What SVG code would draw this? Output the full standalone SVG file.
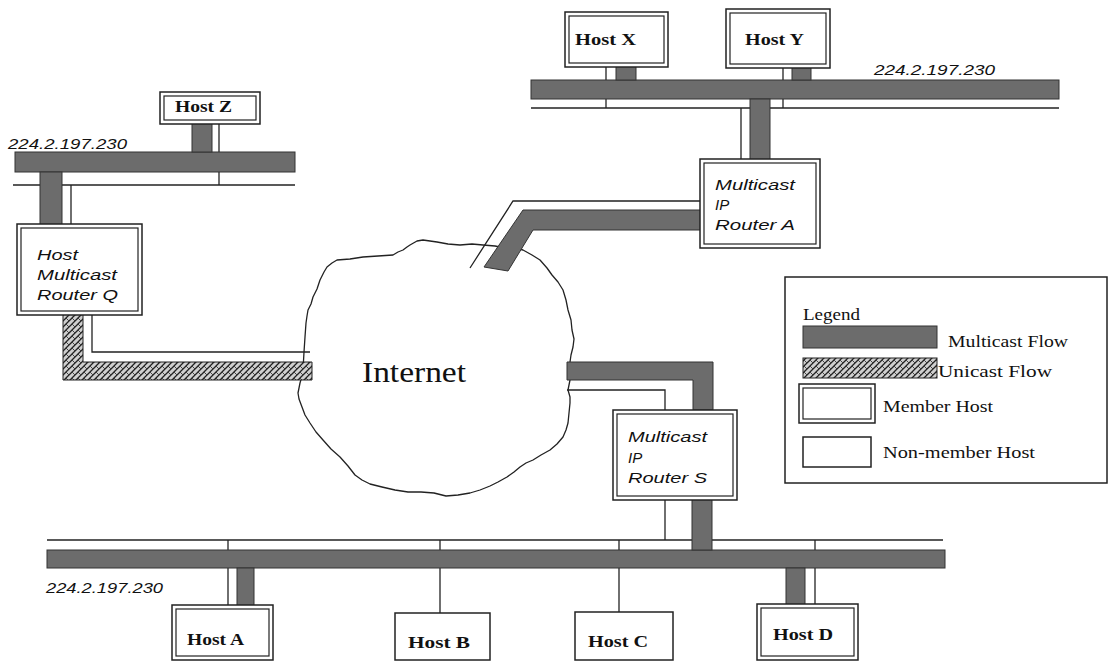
<svg xmlns="http://www.w3.org/2000/svg" width="1111" height="662" viewBox="0 0 1111 662">
<style>
.mc{fill:#6c6c6c;stroke:#333;stroke-width:1}
.uc{fill:url(#hatch);stroke:#222;stroke-width:1}
.thin{fill:none;stroke:#222;stroke-width:1.3}
.box{fill:#fff;stroke:#222;stroke-width:1.5}
.inner{fill:#fff;stroke:#222;stroke-width:1.2}
.host{font-family:"Liberation Serif",serif;font-weight:bold;font-size:16px;fill:#111}
.rt{font-family:"Liberation Sans",Arial,sans-serif;font-style:italic;font-size:15px;fill:#111}
.ip{font-family:"Liberation Sans",Arial,sans-serif;font-style:italic;font-size:15px;fill:#111}
.lg{font-family:"Liberation Serif",serif;font-size:16px;fill:#111}
</style>
<defs>
<pattern id="hatch" width="6" height="6" patternUnits="userSpaceOnUse">
<rect width="6" height="6" fill="#cfcfcf"/>
<path d="M0,6 L6,0 M-1,1 L1,-1 M5,7 L7,5" stroke="#222" stroke-width="1.3"/>
<path d="M0,0 L3,3" stroke="#444" stroke-width="1"/>
</pattern>
</defs>
<rect width="1111" height="662" fill="#fff"/>

<g id="internet">
<path d="M304,352 L305,337 306,323 307,316 308,310 311,304 313,297 317,289 320,280 324,272 327,267 332,263 337,260 350,259 363,257 378,256 393,255 398,252 403,250 407,247 410,245 417,241 423,240 430,241 437,242 448,244 460,245 472,244 483,245 495,246 505,248 515,248 523,250 532,255 540,260 547,268 552,275 558,282 563,290 566,300 568,310 571,320 572,330 574,339 573,347 571,355 570,362 570,380 568,390 570,397 570,403 569,413 568,423 566,430 563,437 557,444 550,450 541,455 533,460 526,463 520,467 514,472 507,477 498,482 490,486 480,490 470,493 458,495 446,496 434,493 421,492 408,492 395,490 382,487 370,484 362,480 355,475 348,466 340,457 331,449 323,440 316,432 310,423 305,415 302,407 299,399 298,393 299,388 300,383 302,376 303,370 Z" fill="#fff" stroke="#222" stroke-width="1.3" stroke-linejoin="round"/>
<text x="362" y="382" font-family="Liberation Serif,serif" font-size="30" textLength="104" lengthAdjust="spacingAndGlyphs" fill="#111">Internet</text>
</g>

<g id="connectors">
<line class="thin" x1="13" y1="185" x2="295" y2="185"/>
<line class="thin" x1="219" y1="123" x2="219" y2="185"/>
<line class="thin" x1="71" y1="185" x2="71" y2="225"/>
<rect class="mc" x="15" y="152" width="280" height="20"/>
<rect class="mc" x="192" y="114" width="20" height="38"/>
<rect class="mc" x="40" y="172" width="22" height="53"/>
<polyline class="thin" points="92,314 92,352 310,352"/>
<path class="uc" d="M63,314 L83,314 L83,362 L312,362 L312,380 L63,380 Z"/>
<line class="thin" x1="531" y1="108" x2="1059" y2="108"/>
<line class="thin" x1="606" y1="67" x2="606" y2="108"/>
<line class="thin" x1="783" y1="68" x2="783" y2="108"/>
<line class="thin" x1="741" y1="108" x2="741" y2="160"/>
<rect class="mc" x="531" y="80" width="528" height="19"/>
<rect class="mc" x="616" y="64" width="20" height="16"/>
<rect class="mc" x="792" y="64" width="19" height="16"/>
<rect class="mc" x="750" y="99" width="20" height="61"/>
<polyline class="thin" points="701,201 513,201 470,268"/>
<path class="mc" d="M701,210 L523,210 L484,267 L508,271 L533,230 L701,230 Z"/>
<polyline class="thin" points="567,390 665,390 665,410"/>
<path class="mc" d="M567,362 L713,362 L713,410 L693,410 L693,380 L567,380 Z"/>
<line class="thin" x1="47" y1="540" x2="943" y2="540"/>
<line class="thin" x1="665" y1="500" x2="665" y2="540"/>
<line class="thin" x1="228" y1="540" x2="228" y2="605"/>
<line class="thin" x1="440" y1="540" x2="440" y2="613"/>
<line class="thin" x1="619" y1="540" x2="619" y2="612"/>
<line class="thin" x1="815" y1="540" x2="815" y2="604"/>
<rect class="mc" x="47" y="550" width="898" height="18"/>
<rect class="mc" x="692" y="498" width="20" height="52"/>
<rect class="mc" x="237" y="568" width="17" height="39"/>
<rect class="mc" x="786" y="568" width="19" height="38"/>
</g>

<g id="labels">
<text class="ip" x="8" y="149" textLength="119" lengthAdjust="spacingAndGlyphs">224.2.197.230</text>
<text class="ip" x="874" y="75" textLength="121" lengthAdjust="spacingAndGlyphs">224.2.197.230</text>
<text class="ip" x="46" y="593" textLength="117" lengthAdjust="spacingAndGlyphs">224.2.197.230</text>
</g>

<g id="host-z">
<rect class="box" x="160" y="92" width="100" height="32"/>
<rect class="inner" x="164" y="96" width="92" height="24"/>
<text class="host" x="175" y="112" textLength="57" lengthAdjust="spacingAndGlyphs">Host Z</text>
</g>

<g id="router-q">
<rect class="box" x="17" y="224" width="125" height="91"/>
<rect class="inner" x="21" y="228" width="117" height="83"/>
<text class="rt" x="37" y="260" textLength="41" lengthAdjust="spacingAndGlyphs">Host</text>
<text class="rt" x="37" y="280" textLength="80" lengthAdjust="spacingAndGlyphs">Multicast</text>
<text class="rt" x="37" y="300" textLength="81" lengthAdjust="spacingAndGlyphs">Router Q</text>
</g>

<g id="host-x">
<rect class="box" x="565" y="12" width="103" height="55"/>
<rect class="inner" x="569" y="16" width="95" height="47"/>
<text class="host" x="575" y="45" textLength="61" lengthAdjust="spacingAndGlyphs">Host X</text>
</g>

<g id="host-y">
<rect class="box" x="726" y="9" width="104" height="59"/>
<rect class="inner" x="730" y="13" width="96" height="51"/>
<text class="host" x="745" y="45" textLength="59" lengthAdjust="spacingAndGlyphs">Host Y</text>
</g>

<g id="router-a">
<rect class="box" x="700" y="159" width="120" height="89"/>
<rect class="inner" x="704" y="163" width="112" height="81"/>
<text class="rt" x="715" y="190" textLength="80" lengthAdjust="spacingAndGlyphs">Multicast</text>
<text class="rt" x="715" y="210">IP</text>
<text class="rt" x="715" y="230" textLength="80" lengthAdjust="spacingAndGlyphs">Router A</text>
</g>

<g id="router-s">
<rect class="box" x="613" y="410" width="124" height="90"/>
<rect class="inner" x="617" y="414" width="116" height="82"/>
<text class="rt" x="628" y="442" textLength="79" lengthAdjust="spacingAndGlyphs">Multicast</text>
<text class="rt" x="628" y="463">IP</text>
<text class="rt" x="628" y="483" textLength="79" lengthAdjust="spacingAndGlyphs">Router S</text>
</g>

<g id="host-a">
<rect class="box" x="172" y="605" width="101" height="55"/>
<rect class="inner" x="176" y="609" width="93" height="47"/>
<text class="host" x="187" y="645" textLength="57" lengthAdjust="spacingAndGlyphs">Host A</text>
</g>

<g id="host-b">
<rect class="box" x="395" y="613" width="95" height="47"/>
<text class="host" x="408" y="648" textLength="62" lengthAdjust="spacingAndGlyphs">Host B</text>
</g>

<g id="host-c">
<rect class="box" x="575" y="612" width="98" height="48"/>
<text class="host" x="588" y="647" textLength="60" lengthAdjust="spacingAndGlyphs">Host C</text>
</g>

<g id="host-d">
<rect class="box" x="757" y="604" width="101" height="56"/>
<rect class="inner" x="761" y="608" width="93" height="48"/>
<text class="host" x="773" y="640" textLength="60" lengthAdjust="spacingAndGlyphs">Host D</text>
</g>

<g id="legend">
<rect x="785" y="277" width="322" height="206" fill="#fff" stroke="#222" stroke-width="1.5"/>
<text class="lg" x="803" y="320" textLength="57" lengthAdjust="spacingAndGlyphs">Legend</text>
<rect class="mc" x="803" y="326" width="134" height="22"/>
<text class="lg" x="948" y="347" textLength="120" lengthAdjust="spacingAndGlyphs">Multicast Flow</text>
<rect class="uc" x="803" y="358" width="134" height="20"/>
<text class="lg" x="938" y="377" textLength="114" lengthAdjust="spacingAndGlyphs">Unicast Flow</text>
<rect class="box" x="799" y="384" width="76" height="39"/>
<rect class="inner" x="803" y="388" width="68" height="31"/>
<text class="lg" x="883" y="412" textLength="110" lengthAdjust="spacingAndGlyphs">Member Host</text>
<rect class="box" x="803" y="437" width="68" height="30"/>
<text class="lg" x="883" y="458" textLength="152" lengthAdjust="spacingAndGlyphs">Non-member Host</text>
</g>
</svg>
